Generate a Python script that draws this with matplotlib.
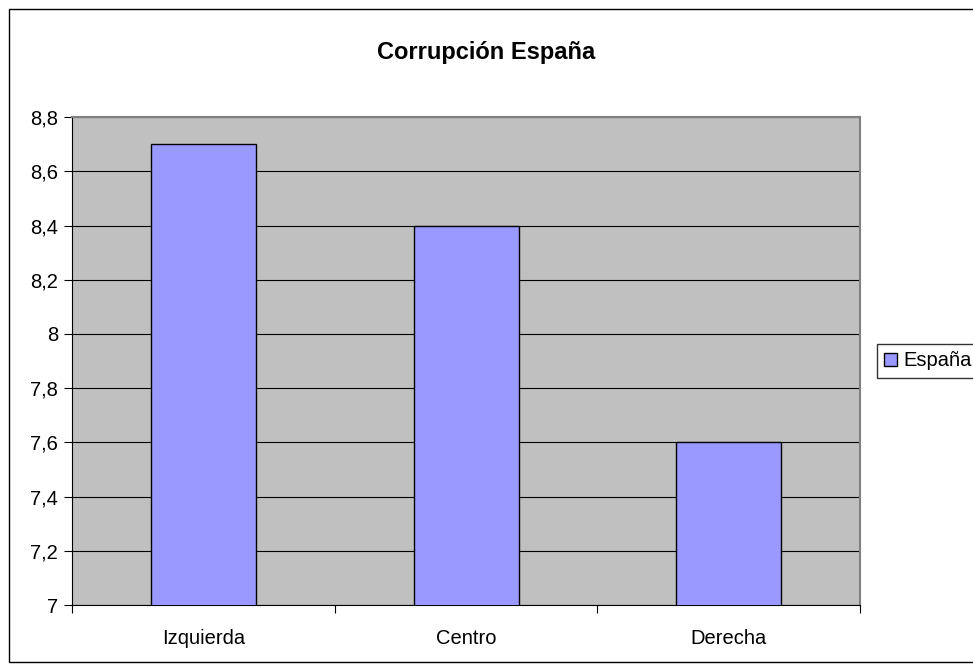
import matplotlib.pyplot as plt
from matplotlib.patches import Rectangle
from matplotlib.ticker import FuncFormatter, MultipleLocator

categorias = ['Izquierda', 'Centro', 'Derecha']
valores = [8.7, 8.4, 7.6]
serie = 'España'

plt.rcParams['font.family'] = ['Liberation Sans', 'DejaVu Sans']

fig = plt.figure(figsize=(9.73, 6.72), dpi=100)

# marco exterior del grafico
fig.patches.append(Rectangle((0.0093, 0.0149), 1.2, 0.9717, transform=fig.transFigure,
                             fill=False, edgecolor='black', linewidth=1.0))

ax = fig.add_axes([0.074, 0.0997, 0.81, 0.726])
ax.set_facecolor('#C0C0C0')

x = range(len(categorias))
ax.bar(x, valores, width=0.4, color='#9999FF', edgecolor='black', linewidth=1.0,
       label=serie, zorder=3)

ax.set_xlim(-0.5, len(categorias) - 0.5)
ax.set_ylim(7, 8.8)
ax.yaxis.set_major_locator(MultipleLocator(0.2))
ax.yaxis.set_major_formatter(FuncFormatter(lambda v, p: ('%g' % round(v, 1)).replace('.', ',')))
ax.grid(axis='y', color='black', linewidth=0.8, zorder=1)

ax.set_xticks([i + 0.5 for i in range(-1, len(categorias))])
ax.set_xticklabels([])
ax.set_xticks(list(x), minor=True)
ax.set_xticklabels(categorias, minor=True)
ax.tick_params(axis='x', which='minor', length=0, pad=17, labelsize=14.5)
ax.tick_params(axis='x', which='major', length=6, direction='out')
ax.tick_params(axis='y', length=6, direction='out', labelsize=14.5, pad=4)

for s in ['top', 'right']:
    ax.spines[s].set_color('#808080')
    ax.spines[s].set_linewidth(1.5)
ax.spines['left'].set_color('black')
ax.spines['bottom'].set_color('black')

fig.text(0.5, 0.922, 'Corrupción España', ha='center', va='center',
         fontsize=17, fontweight='bold')

leg = fig.legend(loc='center left', bbox_to_anchor=(0.901, 0.4628), fontsize=14.5,
                 frameon=True, fancybox=False, handlelength=0.65, handleheight=0.65,
                 handletextpad=0.35, borderpad=0.35, borderaxespad=0)
leg.get_frame().set_edgecolor('black')
leg.get_frame().set_linewidth(1.0)

fig.savefig('out.png', dpi=100)
